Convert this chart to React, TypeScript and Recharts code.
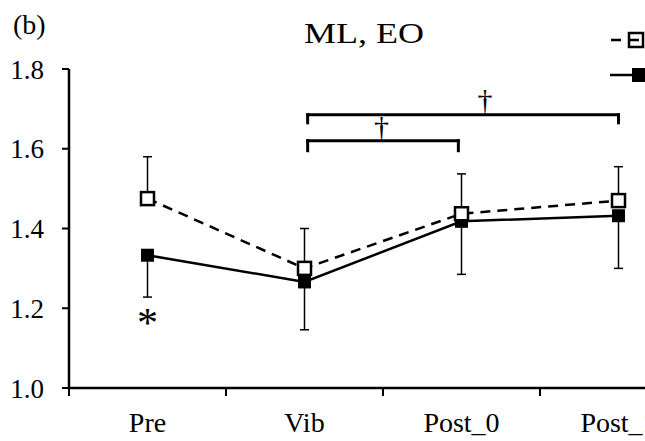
import React from 'react'
import {
  LineChart, Line, XAxis, YAxis, ErrorBar, ReferenceLine, ReferenceDot, Legend,
} from 'recharts'

const FONT = '"Liberation Serif", "Times New Roman", serif'

// categories on the x axis
const categories = ['Pre', 'Vib', 'Post_0', 'Post_1']

// dashed series (open squares): mean and upper SD
const openMean = [1.475, 1.30, 1.437, 1.47]
const openSD = [0.105, 0.10, 0.10, 0.085]

// solid series (filled squares): mean and lower SD
const filledMean = [1.333, 1.266, 1.418, 1.432]
const filledSD = [0.105, 0.12, 0.133, 0.132]

const yTicks = [1.0, 1.2, 1.4, 1.6, 1.8]

// significance brackets (data coords)
const brackets = [
  { x1: 1.52, x2: 3.5, y: 1.685, drop: 0.02 },
  { x1: 1.52, x2: 2.48, y: 1.62, drop: 0.025 },
]
const daggers = [
  { x: 1.99, y: 1.65 },
  { x: 2.65, y: 1.7175 },
]
const asterisk = { x: 0.5, y: 1.1775 }

const data = categories.map((name, i) => ({
  x: i + 0.5,
  name,
  open: openMean[i],
  openErr: [0, openSD[i]],
  filled: filledMean[i],
  filledErr: [filledSD[i], 0],
}))

const xTicks = [0, 0.5, 1, 1.5, 2, 2.5, 3, 3.5, 4]

const XTick = (props: any) => {
  const { x, y, payload } = props
  const v = payload.value
  if (Number.isInteger(v)) {
    return <line x1={x} y1={y} x2={x} y2={y + 8} stroke="#000" strokeWidth={2} />
  }
  return (
    <text x={x} y={y + 44} textAnchor="middle" fontSize={28} fontFamily={FONT} fill="#000">
      {categories[Math.floor(v)]}
    </text>
  )
}

const OpenSquare = (p: any) => {
  if (p.cx == null || p.cy == null) return <g key={`o-${p.index}`} />
  return (
    <rect key={`o-${p.index}`} x={p.cx - 6.5} y={p.cy - 6.5} width={13} height={13}
      fill="#fff" stroke="#000" strokeWidth={2.5} />
  )
}

const FilledSquare = (p: any) => {
  if (p.cx == null || p.cy == null) return <g key={`f-${p.index}`} />
  return (
    <rect key={`f-${p.index}`} x={p.cx - 6.5} y={p.cy - 6.5} width={13} height={13} fill="#000" />
  )
}

const LegendIcons = () => (
  <svg width={45} height={60}>
    <line x1={6} y1={10} x2={40} y2={10} stroke="#000" strokeWidth={2.5} strokeDasharray="10 8" />
    <rect x={24} y={3} width={14} height={14} fill="none" stroke="#000" strokeWidth={2.5} />
    <line x1={5} y1={45} x2={28} y2={45} stroke="#000" strokeWidth={2.5} />
    <rect x={27} y={38} width={14} height={14} fill="#000" />
  </svg>
)

export default function App() {
  return (
    <div style={{ position: 'absolute', left: 0, top: 0, width: 645, height: 441, overflow: 'hidden', background: '#fff' }}>
      <div style={{ position: 'absolute', left: 13, top: 11, fontFamily: FONT, fontSize: 28, lineHeight: 1 }}>(b)</div>
      <div style={{ position: 'absolute', left: 364, top: 18, transform: 'translateX(-50%) scaleX(1.2)', fontFamily: FONT, fontSize: 30, lineHeight: 1, whiteSpace: 'nowrap' }}>
        ML, EO
      </div>
      <LineChart width={720} height={441} data={data} margin={{ top: 69, right: 23, bottom: 0, left: 0 }}>
        <XAxis dataKey="x" type="number" domain={[0, 4]} ticks={xTicks} interval={0}
          tickLine={false} tickSize={0} tickMargin={0} height={53}
          axisLine={{ stroke: '#000', strokeWidth: 2.5 }} tick={<XTick />} />
        <YAxis type="number" domain={[1.0, 1.8]} ticks={yTicks} width={69}
          tickSize={7} tickMargin={18} tickFormatter={(v: number) => v.toFixed(1)}
          axisLine={{ stroke: '#000', strokeWidth: 2.5 }} tickLine={{ stroke: '#000', strokeWidth: 2 }}
          tick={{ fill: '#000', fontSize: 27, fontFamily: FONT }} />
        <Legend layout="vertical" align="center" verticalAlign="middle"
          wrapperStyle={{ position: 'absolute', top: 30, left: 605, width: 45, height: 60 }}
          content={() => <LegendIcons />} />
        {brackets.map((b, i) => (
          <ReferenceLine key={`bh${i}`} segment={[{ x: b.x1, y: b.y }, { x: b.x2, y: b.y }]}
            stroke="#000" strokeWidth={3} strokeLinecap="square" ifOverflow="visible" />
        ))}
        {brackets.map((b, i) => (
          <ReferenceLine key={`bl${i}`} segment={[{ x: b.x1, y: b.y }, { x: b.x1, y: b.y - b.drop }]}
            stroke="#000" strokeWidth={3} strokeLinecap="square" ifOverflow="visible" />
        ))}
        {brackets.map((b, i) => (
          <ReferenceLine key={`br${i}`} segment={[{ x: b.x2, y: b.y }, { x: b.x2, y: b.y - b.drop }]}
            stroke="#000" strokeWidth={3} strokeLinecap="square" ifOverflow="visible" />
        ))}
        {daggers.map((d, i) => (
          <ReferenceDot key={`d${i}`} x={d.x} y={d.y} ifOverflow="visible"
            shape={(p: any) => (
              <text x={p.cx} y={p.cy + 8} textAnchor="middle" fontSize={30} fontFamily={FONT} fill="#000">†</text>
            )} />
        ))}
        <ReferenceDot x={asterisk.x} y={asterisk.y} ifOverflow="visible"
          shape={(p: any) => (
            <text x={p.cx} y={p.cy + 20} textAnchor="middle" fontSize={42} fontFamily={FONT} fill="#000">*</text>
          )} />
        <Line dataKey="filled" stroke="#000" strokeWidth={2.5} dot={FilledSquare} activeDot={false}
          isAnimationActive={false} name="filled">
          <ErrorBar dataKey="filledErr" direction="y" width={4.5} stroke="#000" strokeWidth={1.5} />
        </Line>
        <Line dataKey="open" stroke="#000" strokeWidth={2.5} strokeDasharray="10 7" dot={OpenSquare}
          activeDot={false} isAnimationActive={false} name="open">
          <ErrorBar dataKey="openErr" direction="y" width={4.5} stroke="#000" strokeWidth={1.5} />
        </Line>
      </LineChart>
    </div>
  )
}
